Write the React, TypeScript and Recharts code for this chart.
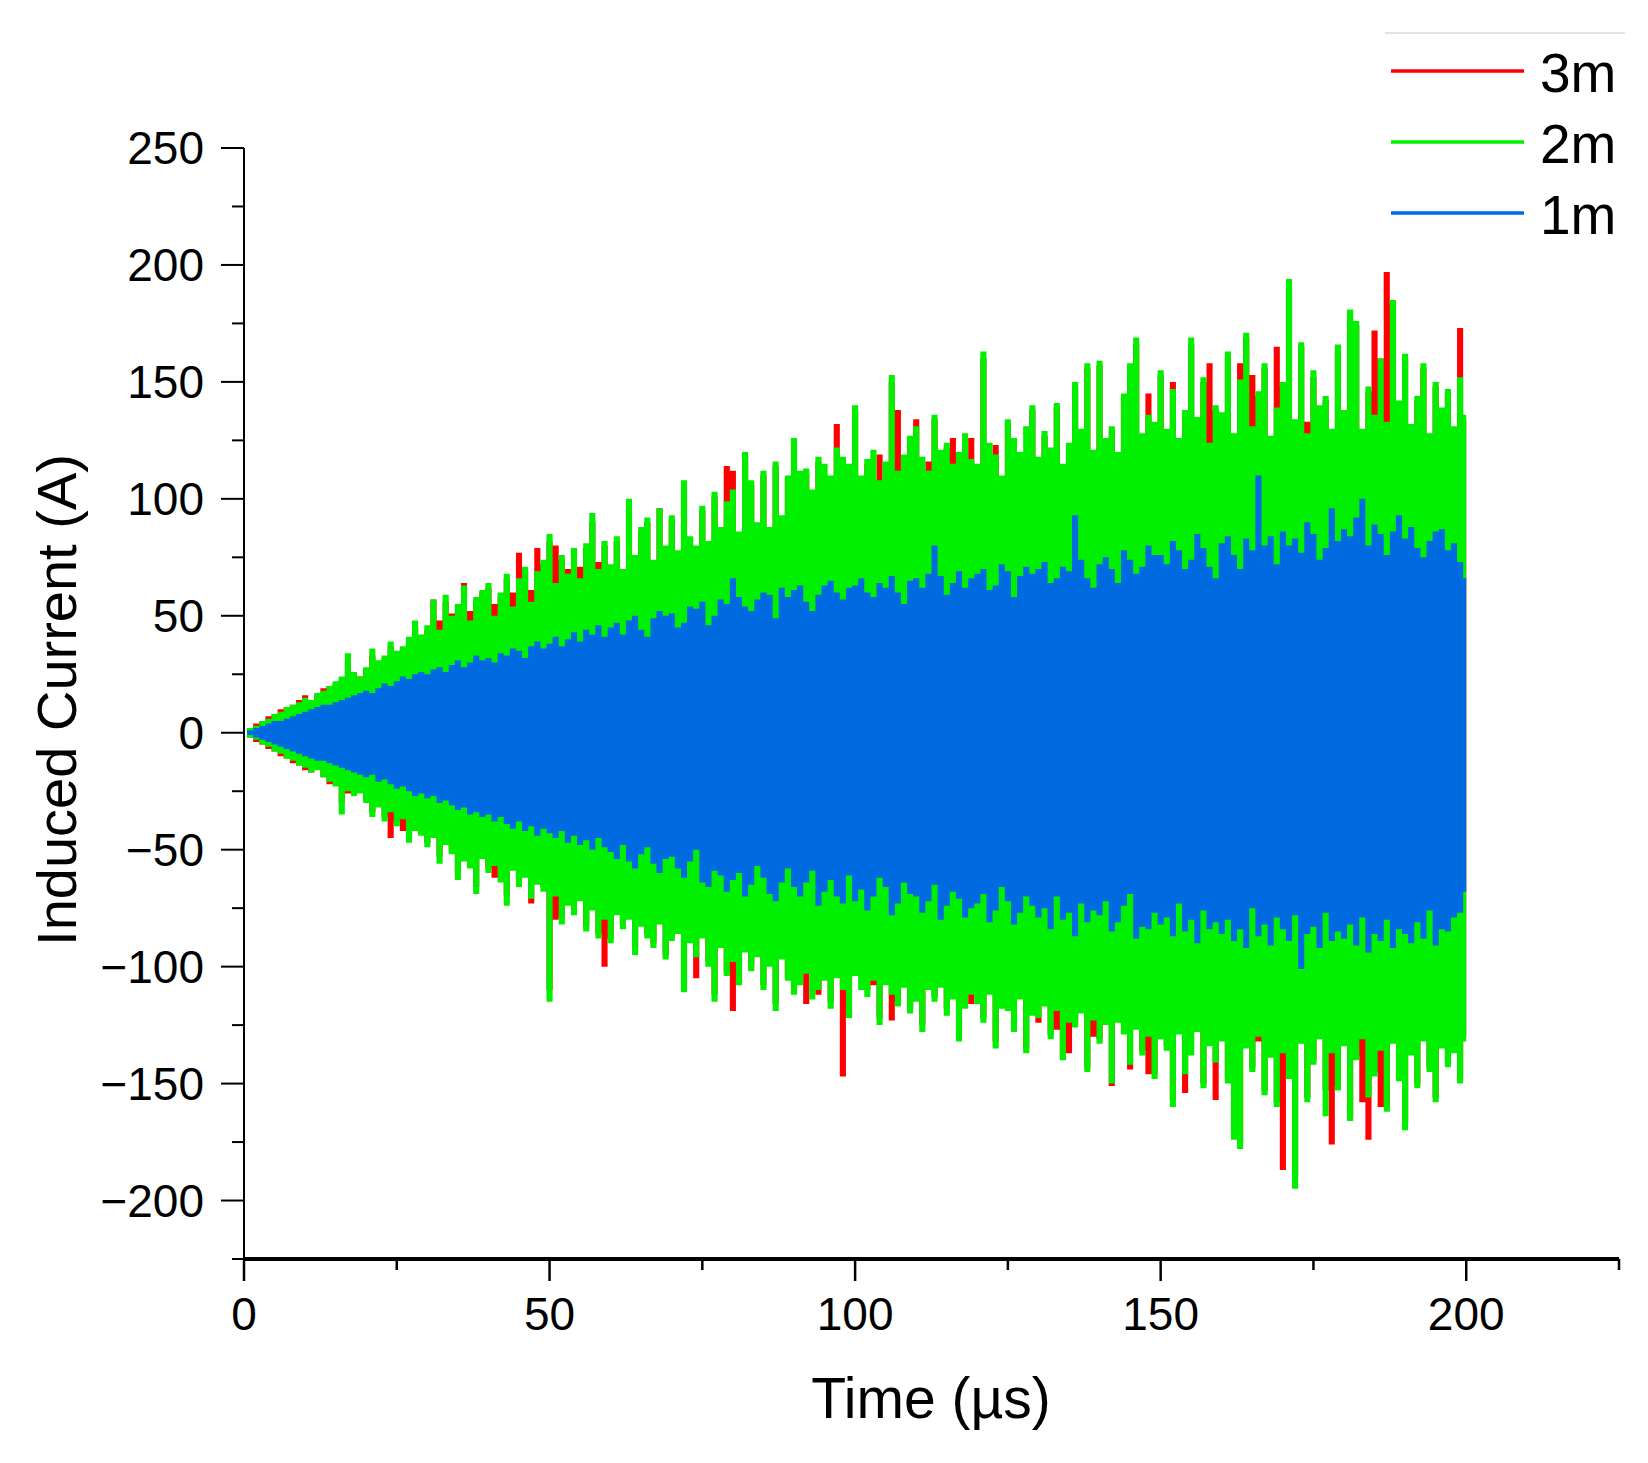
import React from 'react';
import { ComposedChart, Area, XAxis, YAxis, Legend } from 'recharts';

const FONT = '"Liberation Sans", Arial, Helvetica, sans-serif';

const SERIES_NAMES = ['3m', '2m', '1m'];
const SERIES_COLORS = ['#FF0000', '#00F000', '#006BE1'];

const X_TICKS = [0, 25, 50, 75, 100, 125, 150, 175, 200, 225];
const X_LABELED = [0, 50, 100, 150, 200];
const Y_TICKS = [-225, -200, -175, -150, -125, -100, -75, -50, -25, 0, 25, 50, 75, 100, 125, 150, 175, 200, 225, 250];

// 3m (red) upper / lower envelope, one value per microsecond, t = 0..200
const RED_UPPER = [
  0, 2, 4, 5, 7, 8, 10, 11, 12, 14,
  16, 14, 16, 19, 20, 21, 23, 30, 25, 24,
  27, 33, 30, 32, 37, 34, 36, 40, 45, 41,
  44, 57, 48, 56, 51, 53, 64, 52, 56, 60,
  62, 55, 58, 66, 60, 77, 69, 61, 79, 72,
  82, 80, 74, 70, 77, 71, 79, 90, 73, 80,
  70, 82, 68, 98, 75, 86, 90, 72, 96, 79,
  91, 76, 105, 83, 78, 95, 80, 101, 87, 114,
  112, 85, 118, 106, 88, 110, 86, 114, 92, 108,
  124, 97, 111, 103, 116, 100, 108, 132, 99, 113,
  138, 101, 115, 106, 119, 98, 150, 138, 104, 125,
  134, 102, 116, 134, 100, 122, 126, 118, 104, 126,
  113, 160, 102, 123, 108, 132, 105, 118, 110, 138,
  112, 127, 114, 139, 104, 122, 148, 110, 156, 116,
  157, 109, 129, 118, 143, 155, 166, 113, 145, 124,
  153, 115, 150, 124, 136, 166, 120, 150, 158, 138,
  126, 160, 117, 158, 169, 153, 144, 156, 118, 165,
  148, 190, 120, 165, 133, 152, 117, 142, 128, 163,
  125, 178, 174, 119, 146, 172, 160, 197, 183, 140,
  160, 121, 142, 156, 118, 148, 129, 145, 122, 173,
  134,
];
const RED_LOWER = [
  0, -2, -4, -5, -7, -8, -10, -11, -13, -14,
  -16, -17, -15, -19, -22, -22, -30, -26, -26, -25,
  -29, -34, -31, -36, -45, -38, -42, -44, -40, -43,
  -47, -44, -53, -47, -50, -60, -54, -56, -66, -53,
  -58, -62, -62, -70, -57, -64, -61, -73, -63, -66,
  -110, -80, -79, -72, -76, -70, -83, -75, -86, -100,
  -88, -76, -82, -79, -92, -81, -86, -90, -80, -95,
  -87, -84, -108, -88, -105, -86, -98, -112, -90, -102,
  -119, -106, -92, -100, -94, -108, -98, -116, -95, -104,
  -110, -97, -116, -101, -112, -98, -115, -103, -147, -120,
  -102, -94, -110, -108, -122, -106, -123, -115, -100, -118,
  -104, -125, -99, -113, -107, -118, -101, -130, -108, -116,
  -105, -122, -110, -132, -102, -117, -126, -108, -135, -116,
  -124, -107, -129, -127, -138, -137, -124, -118, -143, -130,
  -131, -116, -151, -122, -127, -144, -113, -136, -146, -146,
  -119, -134, -157, -123, -154, -128, -117, -150, -132, -157,
  -126, -148, -171, -175, -130, -143, -132, -153, -137, -158,
  -187, -146, -190, -128, -156, -140, -123, -153, -176, -151,
  -129, -164, -138, -158, -174, -145, -160, -160, -127, -147,
  -167, -134, -150, -126, -143, -156, -129, -141, -135, -148,
  -130,
];

// 2m (green)
const GREEN_UPPER = [
  0, 2, 3, 5, 6, 8, 9, 11, 12, 13,
  15, 14, 17, 18, 20, 22, 24, 34, 26, 24,
  28, 36, 31, 33, 39, 35, 37, 41, 48, 42,
  46, 57, 44, 59, 50, 55, 63, 48, 58, 61,
  64, 50, 60, 68, 54, 66, 71, 56, 69, 74,
  85, 64, 76, 68, 79, 66, 81, 94, 70, 82,
  72, 84, 70, 100, 76, 88, 92, 74, 96, 80,
  93, 78, 108, 84, 80, 97, 82, 103, 88, 99,
  104, 86, 120, 108, 90, 112, 88, 116, 93, 110,
  126, 112, 113, 104, 118, 115, 110, 122, 118, 115,
  140, 110, 117, 121, 108, 116, 153, 112, 119, 127,
  131, 118, 112, 136, 121, 124, 115, 120, 128, 117,
  115, 163, 124, 119, 110, 134, 126, 120, 131, 140,
  118, 129, 122, 141, 115, 124, 150, 130, 158, 121,
  159, 126, 131, 120, 145, 158, 169, 128, 136, 133,
  155, 130, 147, 126, 138, 169, 135, 152, 124, 140,
  137, 163, 128, 151, 171, 131, 146, 158, 127, 139,
  150, 194, 134, 167, 128, 155, 140, 144, 130, 166,
  138, 181, 176, 130, 148, 136, 160, 133, 185, 142,
  162, 132, 144, 158, 128, 150, 139, 147, 131, 152,
  136,
];
const GREEN_LOWER = [
  0, -2, -3, -5, -6, -8, -9, -11, -12, -14,
  -15, -17, -16, -19, -21, -23, -35, -25, -27, -26,
  -30, -36, -32, -38, -34, -40, -37, -47, -42, -44,
  -49, -45, -56, -48, -52, -63, -55, -58, -69, -54,
  -60, -57, -64, -74, -59, -66, -62, -71, -65, -68,
  -115, -70, -82, -74, -78, -72, -85, -76, -88, -80,
  -90, -78, -84, -80, -95, -83, -88, -92, -82, -97,
  -89, -86, -111, -90, -96, -88, -100, -115, -92, -104,
  -98, -108, -94, -102, -96, -110, -100, -119, -97, -106,
  -112, -108, -103, -114, -110, -106, -118, -105, -110, -122,
  -104, -110, -113, -106, -125, -108, -112, -117, -109, -120,
  -115, -128, -110, -115, -109, -121, -114, -132, -118, -112,
  -116, -124, -112, -135, -118, -119, -128, -114, -137, -121,
  -122, -117, -131, -119, -140, -124, -126, -120, -145, -123,
  -133, -125, -150, -124, -129, -142, -127, -138, -130, -148,
  -131, -136, -160, -129, -146, -138, -128, -152, -134, -141,
  -132, -150, -174, -178, -135, -145, -130, -155, -139, -160,
  -137, -148, -195, -133, -158, -142, -131, -164, -137, -153,
  -134, -166, -140, -131, -156, -147, -136, -162, -133, -149,
  -170, -138, -152, -132, -145, -158, -135, -143, -137, -150,
  -132,
];

// 1m (blue)
const BLUE_UPPER = [
  0, 1, 2, 3, 4, 5, 5, 6, 7, 8,
  9, 10, 11, 12, 12, 13, 14, 15, 16, 17,
  18, 17, 19, 21, 20, 22, 24, 23, 25, 26,
  25, 27, 28, 26, 29, 31, 28, 30, 33, 31,
  32, 30, 34, 33, 36, 35, 32, 37, 39, 36,
  38, 41, 37, 40, 43, 39, 44, 42, 46, 41,
  45, 47, 42, 48, 50, 44, 41, 49, 52, 50,
  51, 45, 47, 54, 53, 56, 46, 50, 57, 55,
  66, 58, 54, 52, 57, 60, 59, 49, 62, 58,
  61, 63, 56, 52, 59, 63, 65, 60, 57, 62,
  63, 66, 60, 58, 64, 62, 67, 60, 55, 65,
  66, 62, 68, 80, 67, 59, 64, 69, 62, 66,
  68, 70, 61, 63, 72, 69, 58, 67, 71, 68,
  70, 73, 64, 66, 71, 69, 93, 74, 66, 62,
  72, 75, 70, 64, 78, 74, 68, 71, 80, 76,
  76, 72, 82, 78, 70, 74, 85, 79, 71, 66,
  81, 84, 76, 70, 83, 78, 110, 80, 84, 72,
  86, 80, 83, 77, 90, 85, 74, 79, 96, 82,
  87, 84, 92, 100, 80, 89, 85, 76, 86, 93,
  83, 88, 79, 75, 82, 86, 87, 78, 81, 73,
  66,
];
const BLUE_LOWER = [
  0, -1, -2, -3, -4, -5, -6, -7, -8, -9,
  -10, -11, -12, -12, -13, -14, -15, -16, -17, -18,
  -19, -18, -21, -20, -22, -24, -23, -25, -27, -26,
  -28, -27, -30, -29, -31, -33, -32, -35, -34, -36,
  -35, -38, -36, -39, -41, -38, -42, -40, -44, -41,
  -43, -45, -42, -47, -44, -48, -46, -50, -45, -49,
  -51, -54, -48, -55, -58, -52, -49, -56, -60, -54,
  -53, -58, -62, -55, -50, -64, -66, -59, -61, -68,
  -63, -60, -70, -65, -57, -62, -69, -72, -64, -58,
  -66, -70, -64, -59, -74, -68, -63, -70, -73, -61,
  -72, -67, -76, -70, -62, -66, -78, -73, -64, -69,
  -70, -77, -72, -65, -80, -74, -68, -71, -79, -75,
  -73, -69, -81, -76, -66, -72, -82, -77, -70, -74,
  -79, -75, -84, -70, -80, -77, -87, -73, -81, -76,
  -78, -72, -85, -81, -74, -69, -88, -83, -84, -77,
  -82, -79, -87, -73, -85, -80, -90, -76, -84, -81,
  -86, -80, -89, -84, -92, -75, -87, -82, -91, -79,
  -84, -89, -78, -101, -86, -83, -92, -77, -89, -85,
  -88, -82, -91, -79, -94, -86, -89, -80, -92, -84,
  -86, -90, -81, -88, -76, -91, -84, -85, -79, -77,
  -68,
];

// sample times in microseconds (one sample per µs)
const TIME_US = GREEN_UPPER.map((_, i) => i);

const chartData = TIME_US.map((t, i) => ({
  t,
  red: [RED_LOWER[i], RED_UPPER[i]],
  green: [GREEN_LOWER[i], GREEN_UPPER[i]],
  blue: [BLUE_LOWER[i], BLUE_UPPER[i]],
}));

const fmt = (v: number) => (v < 0 ? '\u2212' + Math.abs(v) : String(v));

const YTick = (props: any) => {
  const { x, y, payload } = props;
  const v = payload.value;
  const major = v % 50 === 0;
  return (
    <g>
      <line x1={x - (major ? 23 : 12)} x2={x} y1={y} y2={y} stroke="#000" strokeWidth={2} />
      {major && (
        <text x={x - 40} y={y + 16} textAnchor="end" fontSize={46} fontFamily={FONT} fill="#000">
          {fmt(v)}
        </text>
      )}
    </g>
  );
};

const XTick = (props: any) => {
  const { x, y, payload } = props;
  const v = payload.value;
  const major = X_LABELED.includes(v);
  return (
    <g>
      <line x1={x} x2={x} y1={y} y2={y + (major ? 22 : 11)} stroke="#000" strokeWidth={2.5} />
      {major && (
        <text x={x} y={y + 71} textAnchor="middle" fontSize={46} fontFamily={FONT} fill="#000">
          {fmt(v)}
        </text>
      )}
    </g>
  );
};

const YTitle = () => (
  <text
    transform="translate(76,700) rotate(-90)"
    textAnchor="middle"
    fontSize={56}
    fontFamily={FONT}
    fill="#000"
  >
    Induced Current (A)
  </text>
);

const XTitle = () => (
  <text x={931} y={1418} textAnchor="middle" fontSize={57} fontFamily={FONT} fill="#000">
    Time (µs)
  </text>
);

const renderLegend = (props: any) => {
  const payload = props.payload || [];
  const items = SERIES_NAMES.map((n, i) => {
    const p = payload.find((e: any) => e.value === n);
    return { name: n, color: (p && p.color) || SERIES_COLORS[i] };
  });
  return (
    <svg width={348} height={250} style={{ display: 'block' }}>
      <line x1={85} x2={325} y1={33} y2={33} stroke="#e2e2e2" strokeWidth={2} />
      {items.map((it, i) => (
        <g key={it.name}>
          <line x1={91} x2={224} y1={71 + 71 * i} y2={71 + 71 * i} stroke={it.color} strokeWidth={3.5} />
          <text x={240} y={92 + 71 * i} fontSize={55} fontFamily={FONT} fill="#000">
            {it.name}
          </text>
        </g>
      ))}
    </svg>
  );
};

export default function App() {
  return (
    <div style={{ position: 'absolute', left: 0, top: 0, width: 1648, height: 1463, background: '#fff' }}>
      <ComposedChart
        width={1648}
        height={1463}
        data={chartData}
        margin={{ top: 148, right: 29, bottom: 0, left: 0 }}
      >
        <XAxis
          dataKey="t"
          type="number"
          domain={[0, 225]}
          ticks={X_TICKS}
          interval={0}
          height={204}
          tickSize={0}
          tickMargin={0}
          tickLine={false}
          tick={<XTick />}
          axisLine={{ stroke: '#000', strokeWidth: 4 }}
          label={<XTitle />}
        />
        <YAxis
          type="number"
          domain={[-225, 250]}
          ticks={Y_TICKS}
          interval={0}
          width={244}
          tickSize={0}
          tickMargin={0}
          tickLine={false}
          tick={<YTick />}
          axisLine={{ stroke: '#000', strokeWidth: 2 }}
          label={<YTitle />}
        />
        <Legend
          content={renderLegend}
          layout="horizontal"
          verticalAlign="middle"
          align="center"
          wrapperStyle={{ left: 1300, top: 0, width: 348, height: 250 }}
        />
        <Area
          dataKey="red"
          name={SERIES_NAMES[0]}
          type="step"
          fill={SERIES_COLORS[0]}
          fillOpacity={1}
          stroke="none"
          dot={false}
          activeDot={false}
          isAnimationActive={false}
        />
        <Area
          dataKey="green"
          name={SERIES_NAMES[1]}
          type="step"
          fill={SERIES_COLORS[1]}
          fillOpacity={1}
          stroke="none"
          dot={false}
          activeDot={false}
          isAnimationActive={false}
        />
        <Area
          dataKey="blue"
          name={SERIES_NAMES[2]}
          type="step"
          fill={SERIES_COLORS[2]}
          fillOpacity={1}
          stroke="none"
          dot={false}
          activeDot={false}
          isAnimationActive={false}
        />
      </ComposedChart>
    </div>
  );
}
